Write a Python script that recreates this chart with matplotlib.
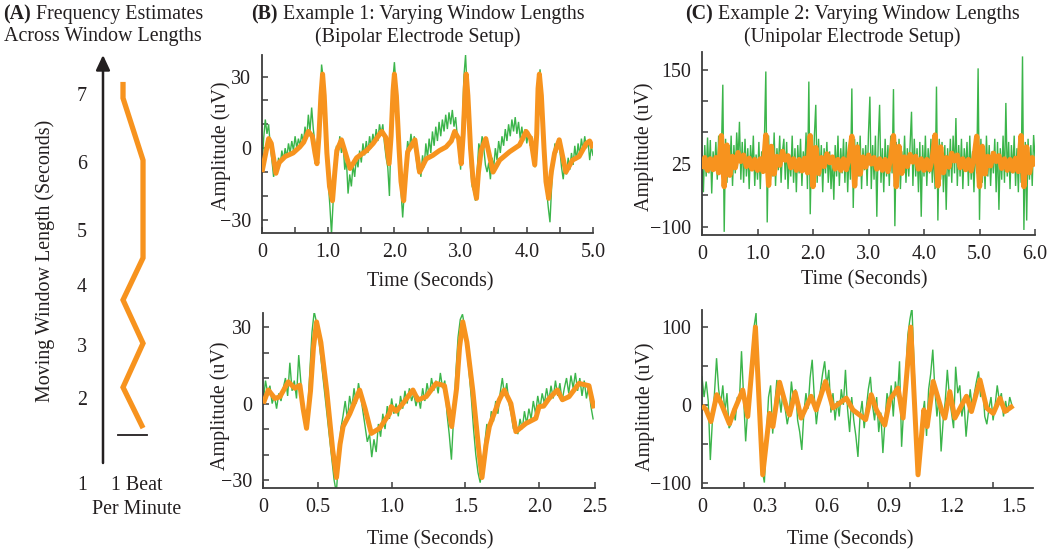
import numpy as np
import matplotlib
matplotlib.use('Agg')
import matplotlib.pyplot as plt

plt.rcParams['font.family'] = ['Liberation Serif', 'DejaVu Serif']

W, H = 1050, 550
GREEN = '#3BB54A'
ORANGE = '#F7931E'
INK = '#231F20'
SPINE = '#3d3d3d'
FS = 14.4

# ---------------- Panel A: frequency estimates across window lengths ----------------
a_window_len = [7.23, 6.98, 6.02, 4.51, 3.86, 3.19, 2.51, 1.88]
a_freq_offset = [0.69, 0.69, 1.38, 1.38, 0.69, 1.38, 0.69, 1.38]
a_tick_labels = ['1', '2', '3', '4', '5', '6', '7']
a_tick_pos = [1.0, 2.31, 3.13, 4.06, 4.90, 5.95, 7.0]
a_scale_bar = [0.52, 1.52]

# ---------------- Panel B (top): bipolar, 5 s ----------------
b1_dt = 0.025
b1_green = [-8, 4, 12, 6, 10, 1, -5, -12,
            -8, -11, -4, -7, -1, -5, 0, -4,
            2, -2, 3, -1, 5, 0, 4, 1,
            6, 2, 9, 4, 14, 7, 17, 8,
            2, -7, -3, 18, 35, 29, 16, 2,
            -14, -24, -36, -22, -8, 1, -3, 5,
            -2, 2, -9, -5, -19, -11, -16, -7,
            -12, -4, -8, -1, -6, 2, -3, 3,
            -2, 5, 0, 6, 2, 8, 3, 10,
            6, 10, 2, -4, -8, -20, 8, 28,
            36, 26, 10, -6, -18, -29, -18, -6,
            3, -1, 6, 0, 5, -3, -9, -5,
            -12, -3, -8, 2, -4, 4, -2, 7,
            1, 9, 3, 11, 5, 12, 7, 14,
            8, 15, 10, 16, 9, 13, 5, 2,
            -9, 8, 30, 39, 24, 6, -8, -16,
            -18, -22, -10, 2, -1, 5, 0, -7,
            -10, -6, -13, -4, -8, 0, -5, 3,
            -2, 5, 1, 8, 3, 10, 5, 12,
            7, 13, 6, 11, 4, 9, 3, 8,
            2, 7, 1, 5, -3, -8, 6, 24,
            33, 24, 6, -8, -18, -25, -31, -16,
            -5, 2, -2, 4, -1, -8, -13, -6,
            -11, -4, -9, -2, -7, 1, -5, 2,
            -3, 4, -1, 5, 0, 3, -5, 1,
            -3]
b1_orange_t = [0.00, 0.05, 0.10, 0.14, 0.21, 0.26, 0.35, 0.47, 0.57, 0.63, 0.70, 0.76, 0.80,
               0.83, 0.86, 0.89, 0.915, 0.94, 0.98, 1.02, 1.065, 1.10, 1.13, 1.20, 1.26, 1.33,
               1.43, 1.58, 1.68, 1.78, 1.81, 1.87, 1.92, 1.95, 1.98, 2.00, 2.03, 2.07, 2.10,
               2.14, 2.17, 2.20, 2.31, 2.38, 2.48, 2.58, 2.68, 2.78, 2.86, 2.91, 2.97, 3.01,
               3.04, 3.07, 3.085, 3.11, 3.15, 3.19, 3.24, 3.27, 3.31, 3.38, 3.49, 3.59, 3.74,
               3.89, 3.99, 4.06, 4.12, 4.15, 4.17, 4.19, 4.22, 4.26, 4.29, 4.33, 4.37, 4.42,
               4.49, 4.59, 4.69, 4.79, 4.90, 4.95, 5.00]
b1_orange_v = [-10, -3, 4, 2, -10.5, -6, -3.5, -2, 0.5, 2.5, 7, 5, -2,
               -6.5, 5, 22, 31, 22, -2, -16, -22, -10, -1, 3.5, -2, -8.5,
               -4, -1, 2, 6, 7, 4.5, -6.5, 5, 24, 31, 22, 0, -14,
               -22, -11, -1.5, 3.5, -10, -4.5, -3, -1, 0.5, 3, 7, 4, -6.5,
               6, 25, 31, 22, 0, -14, -21, -10, -1, 4, -10, -5, -1.5,
               1.3, 7, 4, -7, 6, 25, 31, 22, 0, -14, -21, -10, -2,
               3.5, -10, -5, -3.5, 2, 3, 0]

# ---------------- Panel B (bottom): bipolar, 2.5 s ----------------
b2_t0 = 0.13
b2_dt = 0.015
b2_green = [1, 9, 4, 7, 0, 3, -2, 4, 1, 6,
            10, 3, 16, 5, 9, 2, 19, 8, -3, -9,
            -4, 12, 28, 36, 32, 26, 18, 10, 2, -6,
            -14, -22, -30, -35, -22, -10, -5, 1, -6, 3,
            -2, 6, 0, 8, 3, -3, -9, -15, -12, -21,
            -14, -19, -8, -13, -4, -10, -1, -6, 2, -4,
            0, -5, 3, -2, 5, 0, 6, 1, 4, -1,
            3, -2, 6, 1, 8, 3, 10, 5, 9, 4,
            12, 6, 9, -4, -12, -22, -5, 12, 26, 33,
            35, 30, 22, 12, 2, -10, -20, -27, -31, -24,
            -16, -8, -12, -3, -7, 1, -4, 4, 10, 3,
            8, 0, -4, -10, -7, -12, -6, -10, -3, -8,
            -2, -6, 1, -4, 3, -2, 4, 0, 6, 1,
            7, 2, 9, 3, 8, 1, 6, 10, 4, 11,
            6, 12, 5, 10, 3, 9, 2, 7, -1, -6]
b2_orange_t = [0.130, 0.164, 0.209, 0.243, 0.299, 0.344, 0.378, 0.40, 0.423, 0.45, 0.47, 0.491,
               0.52, 0.56, 0.60, 0.626, 0.65, 0.671, 0.716, 0.783, 0.82, 0.862, 0.918, 0.986,
               0.997, 1.031, 1.076, 1.144, 1.178, 1.234, 1.301, 1.358, 1.385, 1.407, 1.44, 1.46,
               1.482, 1.51, 1.55, 1.59, 1.612, 1.64, 1.662, 1.729, 1.763, 1.808, 1.842, 1.910,
               1.977, 1.999, 2.03, 2.067, 2.123, 2.157, 2.202, 2.270, 2.337, 2.371]
b2_orange_v = [0, 5.3, 2, 2.7, 8.5, 6, 7.2, -2, -9.7, 5, 22, 32,
               24, 5, -18, -29, -16, -9, -4, 5.3, -2, -11.7, -9.7, -3.9,
               -1.2, -3, 0, 5.3, 1.4, 2.7, 7.9, 7, -2, -9, 6, 22,
               32, 24, 5, -18, -29, -16, -9, 1.4, 5.3, 0, -11, -7.8,
               -5.8, -1.2, -1, 2, 5.3, 1.5, 2.7, 7.9, 7, -1.9]

# ---------------- Panel C (top): unipolar, 6 s ----------------
c1_dt = 0.025
c1_green = [10, -45, 30, -20, 42, -15, 38, -47, 20, -10,
            35, -25, 45, -5, 20, 126, -108, 40, -30, 25,
            -20, 45, -35, 30, -15, 50, 5, 67, -25, 35,
            -30, 40, -20, 25, -40, 30, -10, 45, -35, 15,
            -25, 35, -40, 20, -15, 40, 147, -93, 45, -30,
            30, -20, 50, -35, 25, -10, 45, -30, 20, 40,
            -25, 35, -40, 15, -20, 45, -30, 25, -45, 30,
            -15, 40, -35, 20, -10, 50, -40, 131, -80, 35,
            -25, 45, 94, -30, 40, -20, 30, -45, 25, -15,
            35, -30, 20, -40, 10, -57, 30, -20, 45, -35,
            25, -15, 40, -30, 35, -45, 20, -25, 120, -70,
            40, -30, 35, -20, 45, -40, 25, -10, 30, -35,
            50, 107, -40, 30, -25, 45, -84, 35, 94, -30,
            25, -45, 40, -20, 30, -35, 45, -15, 119, -99,
            35, -25, 40, -40, 20, -15, 45, -30, 25, -20,
            30, 83, -35, 40, -20, 25, -45, 35, -84, 30,
            -20, 45, -35, 25, -15, 40, -30, 20, -40, 123,
            -90, 40, -25, 35, -45, 30, -73, 25, -20, 40,
            -30, 45, -15, 73, -35, 30, -20, 40, -40, 25,
            -10, 35, -35, 45, -25, 20, -45, 30, -15, 152,
            -89, 40, -30, 25, -40, 45, -20, 30, -35, 20,
            -15, 40, -45, 35, -73, 25, -25, 45, -30, 97,
            -20, 35, -40, 30, -15, 45, -35, 25, -45, 40,
            -30, 171, -105, 35, -90, 40, -25, 30, -35, 46,
            10]
c1_orange_dt = 0.05
c1_orange = [-8, 10, -10, 8, -9, 10, -14, 45, -36, 30,
             -18, 12, -6, 18, 4, 14, -4, 9, -8, 7,
             -10, 8, -12, 46, -34, 28, -16, 12, -2, 20,
             6, 13, -6, 8, -10, 7, -11, 9, -14, 45,
             -36, 26, -15, 10, -4, 16, 2, 11, -8, 7,
             -10, 8, -9, 10, 44, -35, 27, -16, 11, -5,
             14, 0, 10, -8, 8, -10, 7, -12, 10, 45,
             -36, 28, -15, 11, -4, 15, 3, 12, -8, 8,
             -10, 7, -9, 9, 46, -35, 27, -14, 10, -5,
             17, 5, 14, -6, 8, -9, 7, -11, 9, 44,
             -36, 28, -16, 12, -3, 17, 4, 13, -7, 8,
             -10, 7, -11, 9, -12, 45, -36, 27, -14, 10,
             -4]

# ---------------- Panel C (bottom): unipolar, 1.5 s ----------------
c2_dt = 0.01
c2_green = [36, 10, 30, 5, -71, -20, 15, 60, 20, 0,
            25, -10, 15, -30, -25, -5, -20, 10, 5, 69,
            10, -47, -5, 20, 50, 100, 118, 40, -40, -85,
            -100, -40, 10, 25, -37, 0, 32, 15, -10, 20,
            -5, -25, -10, 30, 5, 20, -20, -35, -58, -10,
            15, -5, 35, 58, 10, -25, 0, 20, 40, 56,
            25, 45, -10, 15, -20, 5, -15, 20, 0, 45,
            -5, -35, 10, -20, -40, -67, -15, 5, -30, -5,
            20, 36, 0, -20, 10, -35, -10, -62, -20, 15,
            0, 25, -15, 30, 10, 56, -54, -5, 40, 90,
            110, 125, 50, -30, -88, -60, -15, 5, -40, 20,
            40, 71, 20, -15, 10, -60, -20, 5, 45, 10,
            -10, -30, 49, 15, 25, -15, 5, -41, -10, 20,
            -5, 15, 30, 43, 10, 25, -15, -25, -5, 10,
            -20, 0, 25, 5, 15, -15, 5, -10, 10, 0]
c2_orange_t = [0.0, 0.019, 0.043, 0.071, 0.092, 0.132, 0.156, 0.196, 0.22, 0.257, 0.292, 0.325,
               0.341, 0.373, 0.405, 0.421, 0.448, 0.477, 0.525, 0.549, 0.594, 0.63, 0.694, 0.726,
               0.787, 0.814, 0.839, 0.879, 0.903, 0.943, 0.967, 1.004, 1.039, 1.067, 1.083, 1.112,
               1.152, 1.168, 1.192, 1.216, 1.272, 1.296, 1.337, 1.369, 1.401, 1.433, 1.457, 1.497]
c2_orange_v = [-1, -6, -21.5, 13, 2, -24.5, -6.5, 19, -15, 100, -90, -11,
               -28, 29, -2, -13, 16, -17, 11, -6.5, 30, -4, 8.6, -6.5,
               -19, 13, -6.5, -26, 6.5, 21.5, -17, 100, -90, -6.5, -28, 30,
               -6.5, -17, 17, -17, 11, -8.6, 32, -4, -11, 8.6, -8.6, -1]

# ---------------- figure ----------------
fig = plt.figure(figsize=(W / 100, H / 100), dpi=100)


def add_axes_px(left, top, right, bottom):
    return fig.add_axes([left / W, 1 - bottom / H, (right - left) / W, (bottom - top) / H])


def fx(x):
    return x / W


def fy(y):
    return 1 - y / H


def style(ax, xpad=7, ypad=8):
    for s in ['top', 'right']:
        ax.spines[s].set_visible(False)
    for s in ['left', 'bottom']:
        ax.spines[s].set_color(SPINE)
        ax.spines[s].set_linewidth(1.3)
    ax.tick_params(which='both', direction='in', length=4, width=1.1, color=SPINE,
                   labelsize=FS, labelcolor=INK)
    ax.tick_params(axis='x', pad=xpad)
    ax.tick_params(axis='y', pad=ypad)
    ax.patch.set_alpha(0)


def labels(ax, xl_px, yl_px):
    ax.set_xlabel('Time (Seconds)', fontsize=FS, color=INK, va='center', ha='center')
    ax.xaxis.set_label_coords(fx(xl_px[0]), fy(xl_px[1]), transform=fig.transFigure)
    ax.set_ylabel('Amplitude (uV)', fontsize=FS, color=INK, va='center', ha='center')
    ax.yaxis.set_label_coords(fx(yl_px[0]), fy(yl_px[1]), transform=fig.transFigure)


def draw_signal(ax, tg, g, to, o, olw=3.6):
    ax.plot(tg, g, color=GREEN, lw=1.0, zorder=2, solid_joinstyle='miter')
    ax.plot(to, o, color=ORANGE, lw=olw, zorder=3, solid_joinstyle='round',
            solid_capstyle='butt')


# ---- Panel A ----
axA = add_axes_px(0, 45, 220, 520)
axA.set_xlim((0 - 103) / 29, (220 - 103) / 29)
axA.set_ylim(1 + (485 - 520) / 64.7, 1 + (485 - 45) / 64.7)
axA.axis('off')
axA.plot(a_freq_offset, a_window_len, color=ORANGE, lw=3.8, solid_joinstyle='miter',
         solid_capstyle='butt')
axA.annotate('', xy=(0, 1 + (485 - 55) / 64.7), xytext=(0, 1 + (485 - 463) / 64.7),
             arrowprops=dict(arrowstyle='-|>,head_length=0.9,head_width=0.42',
                             lw=1.8, color=INK, shrinkA=0, shrinkB=0))
for lab, pos in zip(a_tick_labels, a_tick_pos):
    axA.text(-0.72, pos, lab, fontsize=FS, color=INK, ha='center', va='center')
axA.plot(a_scale_bar, [1.77, 1.77], color=INK, lw=1.3)
axA.text(1.155, 1.0, '1 Beat', fontsize=FS, color=INK, ha='center', va='center')
axA.text(1.17, 1 + (485 - 510) / 64.7, 'Per Minute', fontsize=FS, color=INK,
         ha='center', va='center')
fig.text(fx(45), fy(261), 'Moving Window Length (Seconds)', fontsize=FS, color=INK,
         rotation=90, ha='center', va='center')

# ---- Panel B top ----
axB1 = add_axes_px(262, 55, 593, 233)
b1_t = np.arange(len(b1_green)) * b1_dt
draw_signal(axB1, b1_t, b1_green, b1_orange_t, b1_orange_v)
axB1.set_xlim(0, 5.0)
axB1.set_ylim(-35.5, 39)
axB1.set_xticks(np.arange(0, 5.01, 0.5),
                ['0', '', '1.0', '', '2.0', '', '3.0', '', '4.0', '', '5.0'])
axB1.set_yticks([-30, -20, -10, 0, 10, 20, 30], ['\u221230', '', '', '0', '', '', '30'])
style(axB1)
labels(axB1, (430, 282), (221, 146))

# ---- Panel B bottom ----
axB2 = add_axes_px(263, 313, 595, 488)
b2_t = b2_t0 + np.arange(len(b2_green)) * b2_dt
draw_signal(axB2, b2_t, b2_green, b2_orange_t, b2_orange_v)
axB2.set_xlim(0.128, 2.378)
axB2.set_ylim(-33.1, 35.5)
axB2.set_xticks([0.128, 0.5, 1.0, 1.5, 2.0, 2.378], ['0', '0.5', '1.0', '1.5', '2.0', '2.5'])
axB2.set_yticks([-30, -20, -10, 0, 10, 20, 30], ['\u221230', '', '', '0', '', '', '30'])
style(axB2)
labels(axB2, (430, 540), (220, 406))

# ---- Panel C top ----
axC1 = add_axes_px(702, 52, 1035, 235)
c1_t = np.arange(len(c1_green)) * c1_dt
c1_ot = np.arange(len(c1_orange)) * c1_orange_dt
draw_signal(axC1, c1_t, c1_green, c1_ot, c1_orange, olw=3.8)
axC1.set_xlim(0, 6.0)
axC1.set_ylim(-113, 178)
axC1.set_xticks(np.arange(0, 6.01, 1.0), ['0', '1.0', '2.0', '3.0', '4.0', '5.0', '6.0'])
axC1.set_yticks([-100, -50, 0, 50, 100, 150], ['\u2212100', '', '25', '', '', '150'])
style(axC1)
labels(axC1, (864, 280), (644, 147))

# ---- Panel C bottom ----
axC2 = add_axes_px(702, 310, 1033, 488)
c2_t = np.arange(len(c2_green)) * c2_dt
draw_signal(axC2, c2_t, c2_green, c2_orange_t, c2_orange_v)
axC2.set_xlim(0, 1.592)
axC2.set_ylim(-107, 122)
axC2.set_xticks([0, 0.3, 0.6, 0.9, 1.2, 1.5], ['0', '0.3', '0.6', '0.9', '1.2', '1.5'])
axC2.set_xticks([0.2, 0.4, 0.6, 0.8, 1.0, 1.2, 1.4], minor=True)
axC2.set_yticks([-100, -50, 0, 50, 100], ['\u2212100', '', '0', '', '100'])
style(axC2)
axC2.tick_params(axis='x', which='major', length=0)
labels(axC2, (850, 540), (645, 407))

# ---- titles ----
renderer = fig.canvas.get_renderer()
SPACE_PX = 0.25 * FS * 100 / 72


def title_line(cx, cy, bold, rest):
    t1 = fig.text(0, fy(cy), bold, weight='bold', fontsize=FS, color=INK, ha='left', va='center')
    t2 = fig.text(0, fy(cy), rest, fontsize=FS, color=INK, ha='left', va='center')
    w1 = t1.get_window_extent(renderer).width
    w2 = t2.get_window_extent(renderer).width
    x0 = cx - (w1 + SPACE_PX + w2) / 2
    t1.set_x(fx(x0))
    t2.set_x(fx(x0 + w1 + SPACE_PX))


title_line(103, 14, '(A)', 'Frequency Estimates')
fig.text(fx(103), fy(37), 'Across Window Lengths', fontsize=FS, color=INK, ha='center', va='center')
title_line(418, 14, '(B)', 'Example 1: Varying Window Lengths')
fig.text(fx(418), fy(37), '(Bipolar Electrode Setup)', fontsize=FS, color=INK,
         ha='center', va='center')
title_line(852, 14, '(C)', 'Example 2: Varying Window Lengths')
fig.text(fx(852), fy(37), '(Unipolar Electrode Setup)', fontsize=FS, color=INK,
         ha='center', va='center')

fig.savefig('out.png', dpi=100)
